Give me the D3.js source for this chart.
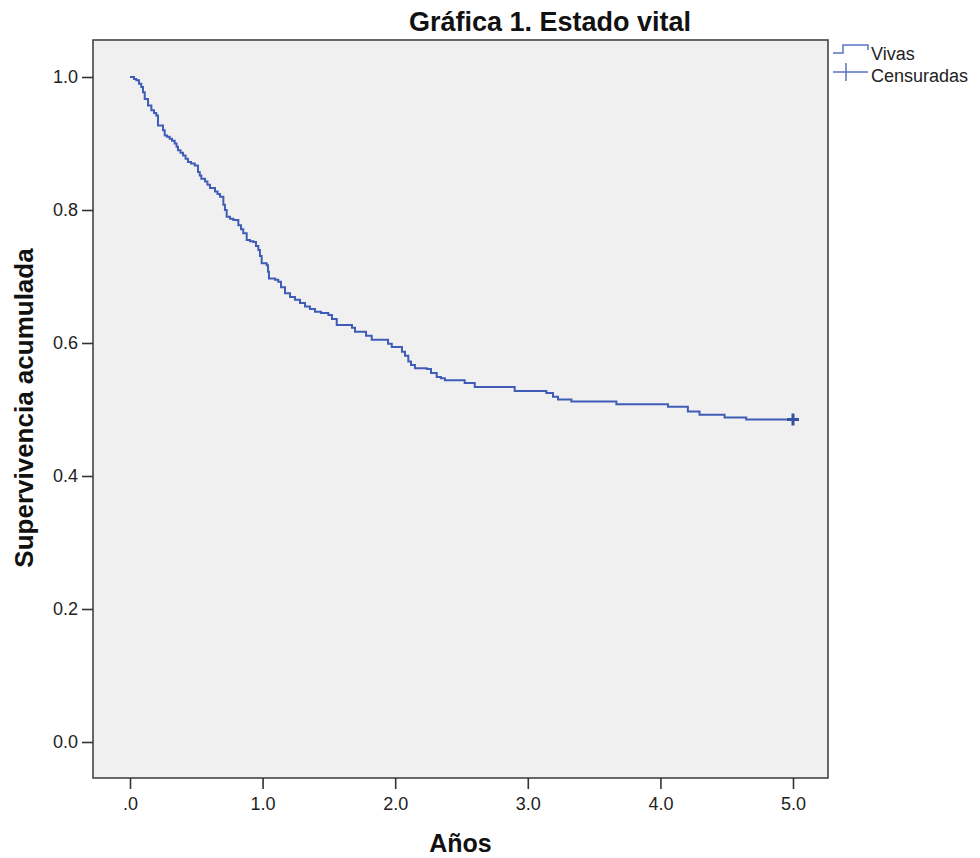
<!DOCTYPE html>
<html>
<head>
<meta charset="utf-8">
<script src="https://cdn.jsdelivr.net/npm/d3@7"></script>
<style>
  body { margin: 0; background: #fff; }
  text { font-family: Arial, "Liberation Sans", sans-serif; }
</style>
</head>
<body>
<svg id="chart" width="980" height="858"></svg>
<script>
// Kaplan-Meier steps: time (years) and survival after each drop
const stepTimes = [0, 0.030, 0.048, 0.068, 0.085, 0.098, 0.111, 0.136, 0.161, 0.181, 0.198,
    0.211, 0.249, 0.262, 0.279, 0.299, 0.317, 0.337, 0.351, 0.362, 0.381, 0.400, 0.419,
    0.437, 0.460, 0.488, 0.513, 0.526, 0.538, 0.566, 0.584, 0.603, 0.641, 0.660, 0.679,
    0.704, 0.716, 0.729, 0.754, 0.779, 0.817, 0.837, 0.854, 0.880, 0.905, 0.930, 0.950,
    0.968, 0.980, 0.993, 1.031, 1.041, 1.048, 1.094, 1.118, 1.139, 1.169, 1.207, 1.244,
    1.282, 1.320, 1.357, 1.395, 1.440, 1.496, 1.523, 1.559, 1.674, 1.697, 1.780, 1.823,
    1.946, 1.974, 2.051, 2.074, 2.099, 2.119, 2.149, 2.238, 2.270, 2.313, 2.345, 2.375,
    2.524, 2.600, 2.901, 3.140, 3.190, 3.228, 3.329, 3.668, 4.057, 4.207, 4.295, 4.484, 4.647];
const stepSurvival = [1.000, 0.997, 0.995, 0.990, 0.985, 0.977, 0.967, 0.957, 0.950, 0.946, 0.942,
    0.927, 0.920, 0.912, 0.910, 0.907, 0.904, 0.900, 0.895, 0.890, 0.886, 0.882, 0.877,
    0.872, 0.870, 0.867, 0.857, 0.852, 0.847, 0.843, 0.838, 0.833, 0.828, 0.824, 0.820,
    0.808, 0.800, 0.790, 0.787, 0.785, 0.777, 0.771, 0.765, 0.755, 0.753, 0.752, 0.746,
    0.740, 0.731, 0.720, 0.717, 0.707, 0.697, 0.695, 0.692, 0.684, 0.675, 0.669, 0.665,
    0.660, 0.655, 0.651, 0.647, 0.645, 0.642, 0.636, 0.627, 0.623, 0.617, 0.611, 0.605,
    0.599, 0.594, 0.587, 0.581, 0.572, 0.567, 0.562, 0.561, 0.555, 0.549, 0.547, 0.544,
    0.540, 0.534, 0.528, 0.525, 0.519, 0.515, 0.512, 0.508, 0.504, 0.497, 0.492, 0.488, 0.485];
const censorTimes = [5.0];
const censorSurvival = [0.485];

const xTicks = [0, 1, 2, 3, 4, 5];
const xTickLabels = [".0", "1.0", "2.0", "3.0", "4.0", "5.0"];
const yTicks = [0, 0.2, 0.4, 0.6, 0.8, 1.0];
const yTickLabels = ["0.0", "0.2", "0.4", "0.6", "0.8", "1.0"];
const legendLabels = ["Vivas", "Censuradas"];

const TITLE = "Gráfica 1. Estado vital";
const X_TITLE = "Años";
const Y_TITLE = "Supervivencia acumulada";

const LINE_COLOR = "#3f5cb6";
const FRAME = { left: 93, right: 828, top: 40, bottom: 778 };

const svg = d3.select("#chart");

const x = d3.scaleLinear().domain([0, 5]).range([130, 793]);
const y = d3.scaleLinear().domain([0, 1]).range([742, 77]);

// plot area
svg.append("rect")
    .attr("x", FRAME.left).attr("y", FRAME.top)
    .attr("width", FRAME.right - FRAME.left)
    .attr("height", FRAME.bottom - FRAME.top)
    .attr("fill", "#f0f0f0")
    .attr("stroke", "#444")
    .attr("stroke-width", 1.6);

// axes
const yAxis = d3.axisLeft(y)
    .tickValues(yTicks)
    .tickSize(11)
    .tickPadding(4)
    .tickFormat((d, i) => yTickLabels[i]);

const xAxis = d3.axisBottom(x)
    .tickValues(xTicks)
    .tickSize(11)
    .tickPadding(8)
    .tickFormat((d, i) => xTickLabels[i]);

const gy = svg.append("g").attr("transform", `translate(${FRAME.left},0)`).call(yAxis);
const gx = svg.append("g").attr("transform", `translate(0,${FRAME.bottom})`).call(xAxis);

[gx, gy].forEach(g => {
    g.select(".domain").remove();
    g.selectAll(".tick line").attr("stroke", "#333").attr("stroke-width", 1.6);
    g.selectAll(".tick text")
        .attr("fill", "#222")
        .style("font-size", "18px")
        .style("font-family", "Arial, 'Liberation Sans', sans-serif");
});

// survival curve
const points = stepTimes.map((t, i) => [t, stepSurvival[i]]);
points.push([censorTimes[0], stepSurvival[stepSurvival.length - 1]]);

const line = d3.line()
    .x(d => x(d[0]))
    .y(d => y(d[1]))
    .curve(d3.curveStepAfter);

svg.append("path")
    .datum(points)
    .attr("d", line)
    .attr("fill", "none")
    .attr("stroke", LINE_COLOR)
    .attr("stroke-width", 2);

// censored marks
censorTimes.forEach((t, i) => {
    const cx = x(t), cy = y(censorSurvival[i]);
    svg.append("path")
        .attr("d", `M${cx - 6},${cy}H${cx + 6}M${cx},${cy - 6}V${cy + 6}`)
        .attr("stroke", "#34509f")
        .attr("stroke-width", 3);
});

// titles
svg.append("text")
    .attr("x", 550).attr("y", 31)
    .attr("text-anchor", "middle")
    .style("font-size", "27px")
    .style("font-weight", "bold")
    .attr("fill", "#111")
    .text(TITLE);

svg.append("text")
    .attr("x", (FRAME.left + FRAME.right) / 2).attr("y", 852)
    .attr("text-anchor", "middle")
    .style("font-size", "25px")
    .style("font-weight", "bold")
    .attr("fill", "#111")
    .text(X_TITLE);

svg.append("text")
    .attr("transform", "translate(33,408) rotate(-90)")
    .attr("text-anchor", "middle")
    .style("font-size", "26px")
    .style("font-weight", "bold")
    .attr("fill", "#111")
    .text(Y_TITLE);

// legend
const legend = svg.append("g").attr("transform", "translate(833,0)");
legend.append("path")
    .attr("d", "M0,53H10V45H35V50")
    .attr("fill", "none")
    .attr("stroke", "#5874c4")
    .attr("stroke-width", 1.5);
legend.append("path")
    .attr("d", "M0,72H35M13,63V81")
    .attr("fill", "none")
    .attr("stroke", "#5874c4")
    .attr("stroke-width", 1.5);

legend.selectAll("text.leg")
    .data(legendLabels)
    .join("text")
    .attr("class", "leg")
    .attr("x", 38)
    .attr("y", (d, i) => 60 + i * 22)
    .style("font-size", "18px")
    .attr("fill", "#222")
    .text(d => d);
</script>
</body>
</html>
